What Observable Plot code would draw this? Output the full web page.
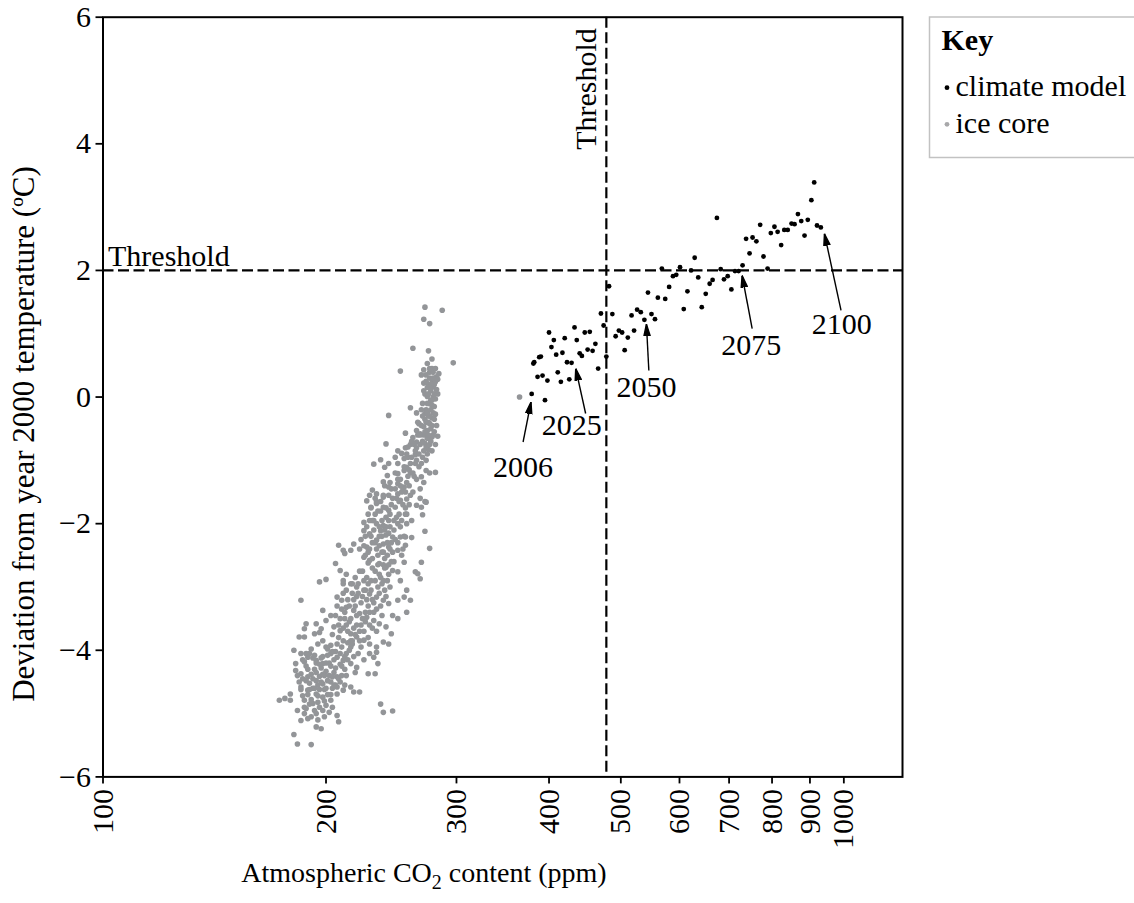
<!DOCTYPE html>
<html>
<head>
<meta charset="utf-8">
<script src="https://cdn.jsdelivr.net/npm/d3@7"></script>
<script src="https://cdn.jsdelivr.net/npm/@observablehq/plot@0.6"></script>
<style>
  html, body { margin: 0; padding: 0; background: #fff; overflow: hidden; }
  #chart { width: 1134px; height: 903px; }
</style>
</head>
<body>
<div id="chart"></div>
<script>
// ---------------- data ----------------
const xTicks = [100, 200, 300, 400, 500, 600, 700, 800, 900, 1000];
const yTicks = [-6, -4, -2, 0, 2, 4, 6];
const thresholdCO2 = 478;
const thresholdTemp = 2;
const seriesNames = ["climate model", "ice core"];

// climate model, one point per year 2006..2100: [CO2 ppm, deviation °C]
const climateModel = [
  [379,0.05],[395,-0.05],[381,0.53],[382,0.55],[388,0.63],[390,0.64],[386,0.32],[392,0.34],[398,0.26],[400,1.02],
  [406,0.90],[403,0.79],[409,0.67],[411,0.39],[415,0.24],[417,0.70],[420,0.93],[423,0.55],[429,0.54],[426,0.28],
  [433,1.10],[436,0.90],[440,0.69],[443,0.65],[447,1.02],[454,1.03],[451,0.75],[458,0.73],[462,0.84],[466,0.45],
  [470,1.32],[474,1.13],[478,0.64],[482,1.75],[487,1.31],[492,0.96],[497,1.05],[502,1.02],[506,0.74],[511,0.94],
  [517,1.29],[521,1.05],[526,1.38],[532,1.34],[538,1.22],[544,1.65],[550,1.31],[556,1.23],[561,1.57],[568,2.03],
  [574,1.55],[581,1.74],[588,1.91],[594,1.93],[601,2.05],[608,1.39],[615,1.67],[622,2.00],[629,2.20],[636,1.89],
  [643,1.42],[651,1.63],[659,1.79],[665,1.85],[674,2.83],[682,2.02],[689,1.86],[697,1.91],[705,1.70],[713,1.99],
  [721,1.99],[730,2.08],[738,2.50],[746,2.27],[753,2.52],[762,2.46],[771,2.72],[779,2.22],[789,2.03],[797,2.59],
  [806,2.69],[814,2.61],[823,2.40],[831,2.64],[840,2.64],[850,2.74],[858,2.73],[867,2.89],[876,2.78],[885,2.55],
  [894,2.80],[904,3.11],[912,3.39],[920,2.71],[931,2.68]
];

// ice core record: [CO2 ppm, deviation °C]
const iceCore = [
  [272,1.42],[287,1.37],[271,1.23],[276,1.16],[262,0.77],[275,0.73],[297,0.54],[274,0.53],[252,0.41],[271,0.43],
  [269,0.35],[276,0.39],[279,0.39],[284,0.37],[278,0.27],[281,0.24],[275,0.2],[279,0.16],[274,0.01],[281,-0.03],
  [276,-0.1],[278,-0.13],[260,-0.17],[265,-0.25],[272,-0.26],[243,-0.29],[281,-0.27],[278,-0.33],
  [267,-0.42],[271,-0.47],[265,-0.53],[276,-0.42],[274,-0.53],[268,-0.58],
  [256,-0.57],[262,-0.64],[260,-0.75],[265,-0.71],[258,-0.79],[283,-0.62],[278,-0.63],[272,-0.73],[275,-0.83],[273,-0.79],
  [241,-0.74],[250,-0.85],[253,-0.89],[248,-0.95],[255,-0.97],[264,-0.91],[265,-1.0],[232,-1.06],[237,-0.99],[240,-1.11],
  [243,-1.05],[250,-1.05],[255,-1.16],[257,-1.11],[250,-1.21],[260,-1.2],[273,-1.16],[276,-1.2],[281,-1.19],[269,-1.26],
  [242,-1.24],[239,-1.34],[243,-1.42],[250,-1.37],[255,-1.42],[231,-1.47],[234,-1.53],[239,-1.58],[243,-1.55],[250,-1.53],
  [252,-1.63],[257,-1.61],[227,-1.64],[230,-1.74],[234,-1.68],[239,-1.74],[243,-1.79],[248,-1.74],[268,-1.6],[272,-1.65],
  [269,-1.74],[265,-1.71],[270,-1.86],[256,-1.85],[250,-2.0],[257,-2.0],[225,-1.98],[231,-1.95],[234,-2.0],[239,-2.03],
  [243,-1.95],[225,-2.11],[229,-2.16],[237,-2.11],[241,-2.18],[246,-2.21],[252,-2.21],[256,-2.21],[261,-2.22],[272,-2.12],
  [273,-1.66],[276,-2.39],[256,-2.34],[234,-2.26],[239,-2.32],[243,-2.37],[250,-2.42],[238,-2.45],[227,-2.37],[222,-2.4],
  [218,-2.32],[216,-2.42],[211,-2.42],[208,-2.34],[212,-2.47],[206,-2.63],[209,-2.74],[225,-2.53],[229,-2.58],[236,-2.63],
  [241,-2.69],[246,-2.74],[250,-2.76],[255,-2.61],[252,-2.9],[257,-3.05],[264,-2.76],[266,-2.79],[268,-2.87],[269,-2.61],
  [196,-2.92],[200,-2.88],[185,-3.21],[211,-2.9],[216,-2.95],[220,-3.0],[225,-3.05],[229,-3.11],[234,-3.16],[239,-3.21],
  [243,-3.26],[250,-3.21],[255,-3.16],[260,-3.21],[257,-3.4],[250,-3.5],[246,-3.45],[207,-3.16],[210,-3.21],[213,-3.32],
  [218,-3.37],[222,-3.42],[227,-3.48],[232,-3.53],[236,-3.58],[241,-3.63],[245,-3.74],[243,-3.9],[198,-3.37],[203,-3.45],
  [200,-3.53],[194,-3.58],[197,-3.66],[188,-3.58],[187,-3.66],[184,-3.79],[187,-3.79],[193,-3.74],[205,-3.63],[209,-3.69],
  [216,-3.74],[220,-3.79],[225,-3.84],[229,-3.9],[234,-3.95],[239,-3.87],[181,-4.0],[185,-4.05],[189,-4.11],[194,-4.16],
  [198,-4.21],[203,-4.05],[207,-4.11],[211,-4.16],[216,-4.21],[220,-4.27],[225,-4.15],[229,-4.05],[234,-4.03],[232,-4.11],
  [235,-4.21],[233,-4.37],[228,-4.37],[182,-4.32],[185,-4.37],[189,-4.42],[194,-4.48],[198,-4.53],[203,-4.5],[207,-4.58],
  [211,-4.63],[216,-4.58],[218,-4.66],[222,-4.66],[182,-4.21],[185,-4.58],[189,-4.63],[194,-4.69],[198,-4.74],[203,-4.79],
  [207,-4.69],[187,-4.79],[192,-4.84],[196,-4.9],[200,-4.87],[173,-4.79],[176,-4.76],[179,-4.69],[179,-4.79],[183,-4.95],
  [187,-5.0],[185,-5.11],[189,-5.08],[194,-5.0],[198,-4.95],[204,-4.9],[207,-5.03],[208,-5.13],[194,-5.21],[197,-5.24],
  [181,-5.33],[183,-5.48],[191,-5.49],[237,-4.85],[239,-4.98],[246,-4.96],[365,0.0],
  [186,-4.45],[188,-4.25],[190,-4.52],[191,-4.38],[192,-4.6],[193,-4.3],[195,-4.55],[196,-4.41],[197,-4.12],[199,-4.62],
  [200,-4.33],[201,-4.48],[202,-4.2],[204,-4.6],[205,-4.35],[206,-4.02],[208,-4.45],[209,-4.22],[210,-3.95],[212,-4.3],
  [213,-4.05],[214,-3.88],[190,-4.85],[193,-4.95],[195,-4.72],[188,-4.05],[191,-3.98],[195,-3.9],[198,-3.85],[201,-4.08],
  [203,-3.92],[185,-4.62],[187,-4.9],[199,-4.4],[203,-4.7],[206,-4.55],[197,-4.28],[194,-4.2],[192,-4.12],[189,-4.7],
  [205,-4.15],[210,-4.4],[212,-4.55],[208,-3.8],[204,-3.75],[200,-3.95],[196,-3.72],[211,-3.65],[215,-4.0],[217,-3.9],
  [206,-3.45],[208,-3.6],[210,-3.35],[212,-3.5],[214,-3.2],[215,-3.55],[217,-3.1],[219,-3.3],[220,-3.6],[221,-2.95],
  [223,-3.25],[224,-3.5],[226,-3.05],[227,-2.85],[228,-3.3],[230,-2.9],[231,-3.2],[233,-2.75],[235,-3.0],[236,-2.8],
  [238,-2.95],[239,-2.65],[225,-3.7],[222,-3.85],[218,-3.65],[216,-3.85],[213,-3.05],[211,-2.95],[219,-2.85],[229,-3.6],
  [232,-3.4],[234,-3.7],[237,-3.3],[240,-3.05],[242,-2.9],[224,-2.75],[228,-2.62],[220,-3.15],[226,-3.4],[214,-3.7],
  [223,-2.25],[225,-2.35],[227,-2.05],[229,-2.4],[230,-2.2],[232,-1.95],[233,-2.3],[235,-2.5],[236,-2.05],[237,-1.8],
  [238,-2.2],[240,-2.55],[241,-1.9],[242,-2.3],[244,-2.05],[245,-1.7],[246,-2.45],[247,-1.95],[248,-2.25],[249,-1.6],
  [251,-1.85],[252,-2.05],[253,-1.5],[254,-2.4],[256,-1.75],[231,-2.55],[228,-1.85],[234,-1.65],[239,-1.55],[243,-2.65],
  [245,-1.45],[247,-2.6],[250,-1.3],[253,-2.5],[236,-2.35],[241,-2.05],[244,-2.4],[233,-1.85],[226,-2.5],[230,-1.75],
  [252,-1.3],[255,-1.1],[257,-1.35],[258,-0.95],[260,-1.05],[261,-0.7],[263,-1.25],[264,-0.85],[266,-0.6],[267,-1.1],
  [268,-0.75],[269,-0.45],[270,-0.95],[271,-0.6],[272,-0.35],[273,-1.0],[274,-0.65],[275,-0.4],[276,-0.75],[277,-0.5],
  [278,-0.85],[279,-0.25],[280,-0.55],[259,-1.4],[262,-1.5],[265,-1.3],[268,-1.45],[271,-1.35],[256,-0.8],[254,-1.45],
  [270,-0.1],[272,0.05],[273,-0.2],[274,0.15],[276,0.3],[277,-0.05],[277,0.1],[278,0.45],[279,0.0],[280,0.2],
  [282,0.32],[271,0.22],[275,-0.3],[280,-0.15],[283,0.05],[273,0.35],
  [184,-4.5],[186,-4.72],[187,-4.18],[188,-4.48],[189,-4.3],[190,-4.05],[190,-4.62],[191,-4.78],[192,-4.45],[193,-4.08],
  [193,-4.6],[194,-4.35],[195,-4.82],[196,-4.22],[196,-4.62],[197,-4.5],[198,-4.1],[198,-4.38],[199,-4.8],[200,-4.2],
  [200,-4.6],[201,-3.98],[201,-4.7],[202,-4.4],[203,-4.25],[204,-4.42],[204,-4.02],[205,-4.55],[206,-4.28],[207,-3.9],
  [207,-4.42],[209,-4.05],[209,-4.5],[210,-4.25],[211,-3.85],[212,-4.1],[213,-4.4],[214,-4.15],[216,-3.95],[218,-4.1],
  [219,-4.35],[221,-4.05],[223,-3.95],[188,-4.92],[191,-5.05],[195,-5.1],[199,-5.05],[202,-4.98],[186,-4.15],[183,-4.4],
  [207,-3.3],[209,-3.5],[211,-3.1],[212,-3.4],[213,-3.6],[215,-3.3],[216,-3.5],[217,-2.95],[218,-3.2],[219,-3.75],
  [220,-3.45],[221,-3.1],[222,-2.75],[223,-3.6],[224,-3.15],[225,-2.9],[226,-3.55],[227,-3.2],[228,-2.95],[229,-3.4],
  [230,-3.05],[231,-2.7],[232,-3.25],[233,-2.9],[234,-3.35],[235,-2.65],[236,-3.1],[237,-2.85],[238,-3.45],[239,-2.9],
  [240,-2.7],[241,-3.15],[243,-2.8],[244,-3.0],[245,-2.6],[222,-3.7],[228,-3.8],[231,-3.65],[217,-3.85],[213,-2.8],
  [226,-2.2],[228,-2.45],[229,-1.95],[231,-2.3],[232,-2.1],[234,-2.4],[235,-1.8],[236,-2.2],[238,-1.95],[239,-2.45],
  [240,-2.1],[241,-1.75],[242,-2.5],[243,-2.15],[244,-1.85],[245,-2.3],[246,-1.6],[247,-2.1],[248,-1.45],[249,-1.9],
  [250,-2.3],[251,-1.65],[252,-1.4],[253,-1.95],[254,-1.7],[255,-2.2],[256,-1.5],[257,-1.85],[258,-1.25],[259,-1.7],
  [260,-1.55],[261,-1.95],[237,-1.65],[233,-1.6],[229,-1.55],[244,-1.35],[248,-1.2],[240,-1.4],
  [257,-0.9],[259,-1.15],[261,-0.95],[262,-1.2],[263,-0.75],[264,-1.05],[265,-0.8],[266,-0.4],[267,-0.9],[268,-0.6],
  [269,-1.05],[270,-0.7],[270,-0.3],[271,-0.85],[272,-0.55],[273,-0.4],[274,-0.9],[275,-0.6],[276,-0.3],[277,-0.7],
  [278,-0.45],[279,-0.6],[280,-0.35],[281,-0.75],[282,-0.45],[274,-0.25],[277,-0.2],[269,-0.2],
  [271,0.1],[273,0.25],[274,-0.1],[275,0.05],[276,0.45],[277,0.2],[278,-0.05],[278,0.6],[279,0.3],[280,0.05],
  [281,0.45],[282,0.12],[283,0.28],[276,0.15]
];

// year annotations: label, label position, arrow tail, arrow tip (data units)
const annotations = [
  {label: "2006", tx: 369,   ty: -1.11, x1: 369,   y1: -0.71, x2: 378.2, y2: -0.08},
  {label: "2025", tx: 429.4, ty: -0.45, x1: 448.2, y1: -0.26, x2: 434.6, y2: 0.45},
  {label: "2050", tx: 541.4, ty: 0.16,  x1: 545.5, y1: 0.42,  x2: 541.4, y2: 1.15},
  {label: "2075", tx: 749.8, ty: 0.82,  x1: 752.1, y1: 1.08,  x2: 728.9, y2: 1.92},
  {label: "2100", tx: 993.2, ty: 1.15,  x1: 991.3, y1: 1.37,  x2: 941.5, y2: 2.58}
];

// ---------------- styles ----------------
const FONT = "'Liberation Serif', 'Times New Roman', serif";
const FS = 30;
const ICE = "#939598";

function fmtY(d) { return d < 0 ? "\u2212" + Math.abs(d) : String(d); }

function filledArrow(color, context) {
  const ns = "http://www.w3.org/2000/svg";
  const doc = context.document;
  const m = doc.createElementNS(ns, "marker");
  m.setAttribute("viewBox", "-12 -4 12 8");
  m.setAttribute("markerWidth", 12);
  m.setAttribute("markerHeight", 8);
  m.setAttribute("markerUnits", "userSpaceOnUse");
  m.setAttribute("refX", 0);
  m.setAttribute("refY", 0);
  m.setAttribute("orient", "auto");
  const p = doc.createElementNS(ns, "path");
  p.setAttribute("d", "M-12,-3.2L0,0L-12,3.2Z");
  p.setAttribute("fill", color);
  m.appendChild(p);
  return m;
}

function build(useMarker) {
  const arrowMark = useMarker
    ? Plot.link(annotations, {x1: "x1", y1: "y1", x2: "x2", y2: "y2", stroke: "black", strokeWidth: 1.4, markerEnd: filledArrow})
    : Plot.arrow(annotations, {x1: "x1", y1: "y1", x2: "x2", y2: "y2", stroke: "black", strokeWidth: 1.4, headLength: 11, headAngle: 30});
  return Plot.plot({
    width: 1134,
    height: 903,
    marginLeft: 102.5,
    marginRight: 232,
    marginTop: 16.7,
    marginBottom: 126.6,
    style: {fontFamily: FONT, fontSize: FS + "px", color: "black", background: "white", overflow: "visible"},
    x: {type: "log", domain: [100, 1200]},
    y: {domain: [-6, 6]},
    marks: [
      Plot.dot(iceCore, {x: d => d[0], y: d => d[1], r: 2.8, fill: ICE, stroke: null}),
      Plot.ruleY([thresholdTemp], {stroke: "black", strokeWidth: 2.2, strokeDasharray: "11,4.5"}),
      Plot.ruleX([thresholdCO2], {stroke: "black", strokeWidth: 2.2, strokeDasharray: "11,4.5"}),
      Plot.dot(climateModel, {x: d => d[0], y: d => d[1], r: 2.4, fill: "black", stroke: null}),
      arrowMark,
      Plot.text(annotations, {x: "tx", y: "ty", text: "label", fontSize: FS, fill: "black", textAnchor: "middle", lineAnchor: "middle"}),
      Plot.text(["Threshold"], {x: 100, y: thresholdTemp, text: d => d, fontSize: FS, fill: "black", textAnchor: "start", lineAnchor: "bottom", dx: 5, dy: -4}),
      Plot.text(["Threshold"], {x: thresholdCO2, y: 6, text: d => d, fontSize: FS, fill: "black", rotate: -90, textAnchor: "end", lineAnchor: "bottom", dx: -10, dy: 11}),
      Plot.frame({stroke: "black", strokeWidth: 2}),
      Plot.axisX({ticks: xTicks, tickFormat: d => String(d), tickSize: 7, tickPadding: 5, tickRotate: -90, fontSize: FS, strokeWidth: 1.8, label: null}),
      Plot.axisY({ticks: yTicks, tickFormat: fmtY, tickSize: 7, tickPadding: 5, fontSize: FS, strokeWidth: 1.8, label: null})
    ]
  });
}

let chart;
try { chart = build(true); } catch (e) { chart = build(false); }
document.getElementById("chart").appendChild(chart);

// axis titles and key
const svg = d3.select(chart);
svg.append("text")
  .attr("transform", "translate(34,434) rotate(-90)")
  .attr("text-anchor", "middle")
  .attr("font-family", FONT).attr("font-size", 31).attr("fill", "black")
  .text("Deviation from year 2000 temperature (\u00BAC)");

const xl = svg.append("text")
  .attr("x", 424).attr("y", 882)
  .attr("text-anchor", "middle")
  .attr("font-family", FONT).attr("font-size", 28).attr("fill", "black");
xl.append("tspan").text("Atmospheric CO");
xl.append("tspan").attr("font-size", 20).attr("dy", 7).text("2");
xl.append("tspan").attr("dy", -7).text(" content (ppm)");

const key = svg.append("g").attr("text-anchor", "start");
key.append("rect").attr("x", 929.5).attr("y", 17).attr("width", 220).attr("height", 140.5)
  .attr("fill", "white").attr("stroke", "#c2c2c2").attr("stroke-width", 1.5);
key.append("text").attr("x", 941.5).attr("y", 50).attr("text-anchor", "start").attr("font-family", FONT).attr("font-size", FS)
  .attr("font-weight", "bold").attr("fill", "black").text("Key");
key.append("circle").attr("cx", 947).attr("cy", 87.7).attr("r", 2.4).attr("fill", "black");
key.append("text").attr("x", 955.5).attr("y", 95.7).attr("text-anchor", "start").attr("font-family", FONT).attr("font-size", FS)
  .attr("fill", "black").text(seriesNames[0]);
key.append("circle").attr("cx", 947).attr("cy", 124.3).attr("r", 2.4).attr("fill", "#a8a8aa");
key.append("text").attr("x", 955.5).attr("y", 132.5).attr("text-anchor", "start").attr("font-family", FONT).attr("font-size", FS)
  .attr("fill", "black").text(seriesNames[1]);
</script>
</body>
</html>
